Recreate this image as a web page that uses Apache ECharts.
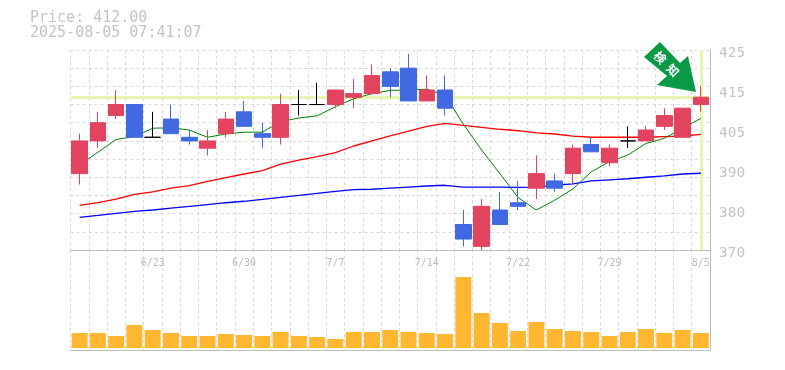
<!DOCTYPE html>
<html>
<head>
<meta charset="utf-8">
<title>Price chart</title>
<style>
  html, body { margin: 0; padding: 0; background: #fff; }
  #chart { width: 785px; height: 370px; }
</style>
<script src="https://cdn.jsdelivr.net/npm/echarts@6/dist/echarts.min.js"></script>
</head>
<body>
<div id="chart"></div>
<script>
const priceText = "Price: 412.00";
const timeText = "2025-08-05 07:41:07";
const lastPrice = 412;

const dates = ["6/17","6/18","6/19","6/20","6/23","6/24","6/25","6/26","6/27","6/30",
  "7/1","7/2","7/3","7/4","7/7","7/8","7/9","7/10","7/11","7/14",
  "7/15","7/16","7/17","7/18","7/22","7/23","7/24","7/25","7/28","7/29",
  "7/30","7/31","8/1","8/4","8/5"];
const dateLabels = ["6/23","6/30","7/7","7/14","7/22","7/29","8/5"];
const priceTickLabels = ["370","380","390","405","415","425"];

// open, close, low, high
const candles = [
  [391,400,388,402],[400,405,398,408],[407,410,406,414],[410,401,401,410],[401,401,401,408],
  [406,402,402,410],[401,400,399,403],[398,400,396,403],[402,406,401,408],[408,404,404,411],
  [402,401,398,405],[401,410,399,413],[410,410,407,414],[410,410,410,416],[410,414,409,414],
  [412,413,409,417],[413,418,413,421],[419,415,412,420],[420,411,411,424],[411,414,411,418],
  [414,409,407,418],[377,373,371,381],[371,382,370,384],[381,377,377,386],[383,382,381,389],
  [387,391,384,396],[389,387,386,391],[391,398,388,399],[399,397,397,401],[394,398,393,399],
  [400,400,398,404],[400,403,400,404],[404,407,403,409],[401,409,401,409],[410,412,408,415]
];
const ma5 = [393.4,396.9,400.4,401.2,403.5,403.6,403,401,401.9,402.4,402.4,405.3,406.3,406.9,409.4,
  411.6,413,413.9,414,414.2,412.6,404.6,397.5,391,384.4,381,383.7,386.8,391.5,394.3,
  396.1,399.3,400.7,403.5,406.2];
const ma25 = [382.3,383,384,385.3,386,387,387.7,388.9,389.9,390.9,391.8,393.6,394.7,395.7,396.8,
  398.6,400,401.4,402.7,404,404.8,404.3,403.7,403.2,402.8,402.2,401.9,401.3,401,401,
  401,401,401.2,401.3,401.8];
const ma75 = [379,379.5,380.1,380.6,381,381.5,382,382.5,383,383.4,383.9,384.5,385,385.6,386.1,
  386.6,386.7,387,387.3,387.6,387.8,387.3,387.3,387.3,387.2,387.3,387.8,388.2,389,389.3,
  389.6,390,390.4,390.9,391.1];
// 出来高(千株)
const volumes = [15,15,12,23,18,15,12,12,14,13,12,16,12,11,9,16,16,18,
  16,15,14,71,35,25,17,26,19,17,16,12,16,19,15,18,15];

const chart = echarts.init(document.getElementById("chart"));
const gridLine = { show: true, lineStyle: { color: "#d8d8d8", type: [3, 3], width: 1 } };
const frameLine = { show: true, onZero: false, lineStyle: { color: "#bbb", width: 1 } };
const monoFont = "DejaVu Sans Mono";

let option = {
  animation: false,
  title: {
    text: priceText + "\n" + timeText,
    left: 30,
    top: 11,
    padding: 0,
    textStyle: { color: "#c4c4c4", fontFamily: monoFont, fontSize: 15, fontWeight: "normal", lineHeight: 15 }
  },
  grid: [
    { left: 70.5, width: 639.5, top: 50, height: 200 },
    { left: 70.5, width: 639.5, top: 250, height: 100 }
  ],
  xAxis: [
    {
      type: "category",
      gridIndex: 0,
      data: dates,
      axisLine: frameLine,
      axisTick: { show: false },
      splitLine: Object.assign({ interval: 0 }, gridLine),
      axisLabel: {
        interval: (i, name) => dateLabels.includes(name),
        color: "#bbb",
        fontFamily: monoFont,
        fontSize: 10,
        margin: 8
      }
    },
    {
      type: "category",
      gridIndex: 1,
      data: dates,
      axisLine: frameLine,
      axisTick: { show: false },
      axisLabel: { show: false },
      splitLine: Object.assign({ interval: 0 }, gridLine)
    }
  ],
  yAxis: [
    {
      type: "value",
      gridIndex: 0,
      position: "right",
      min: 370,
      max: 425,
      interval: 5,
      axisLine: frameLine,
      axisTick: { show: false },
      axisLabel: { show: false },
      splitLine: gridLine
    },
    {
      // 目盛ラベル用
      type: "value",
      gridIndex: 0,
      position: "right",
      min: 370,
      max: 425,
      interval: 11,
      axisLine: { show: false },
      axisTick: { show: false },
      splitLine: { show: false },
      axisLabel: {
        formatter: (v, i) => priceTickLabels[i],
        color: "#c4c4c4",
        fontFamily: monoFont,
        fontSize: 14.5,
        margin: 9,
        verticalAlign: "top",
        lineHeight: 6
      }
    },
    {
      type: "value",
      gridIndex: 1,
      position: "right",
      min: -2,
      max: 98,
      axisLine: frameLine,
      axisTick: { show: false },
      axisLabel: { show: false },
      splitLine: { show: false }
    }
  ],
  series: [
    {
      type: "line",
      data: ma75,
      symbol: "none",
      z: 1,
      lineStyle: { color: "#0000ff", width: 1.3 },
      markLine: {
        silent: true,
        z: 1,
        symbol: "none",
        label: { show: false },
        lineStyle: { color: "#e6f6ae", width: 3, type: "solid" },
        data: [{ yAxis: lastPrice }, { xAxis: dates[dates.length - 1] }]
      }
    },
    { type: "line", data: ma25, symbol: "none", z: 1, lineStyle: { color: "#ff0000", width: 1.3 } },
    { type: "line", data: ma5, symbol: "none", z: 1, lineStyle: { color: "#008000", width: 1 } },
    {
      type: "candlestick",
      data: candles,
      barWidth: 16,
      z: 3,
      itemStyle: {
        color: "#e2445f",
        color0: "#4169e1",
        borderColor: "#e2445f",
        borderColor0: "#4169e1",
        borderColorDoji: "#000",
        borderWidth: 1
      }
    },
    {
      type: "bar",
      xAxisIndex: 1,
      yAxisIndex: 2,
      data: volumes,
      barWidth: 16,
      itemStyle: { color: "#ffb732" }
    }
  ],
  graphic: [
    {
      type: "polygon",
      z: 10,
      shape: { points: [[660, 42], [680, 63], [688, 56], [696, 92], [657, 85], [667, 76], [644, 57]] },
      style: { fill: "#0a9a46" }
    },
    {
      type: "text",
      z: 11,
      x: 666.5,
      y: 64,
      rotation: -Math.PI / 4,
      style: {
        text: "検\u2002知",
        fill: "#fff",
        font: "bold 12px 'Noto Sans CJK JP'",
        align: "center",
        verticalAlign: "middle"
      }
    }
  ]
};
chart.setOption(option);
</script>
</body>
</html>
